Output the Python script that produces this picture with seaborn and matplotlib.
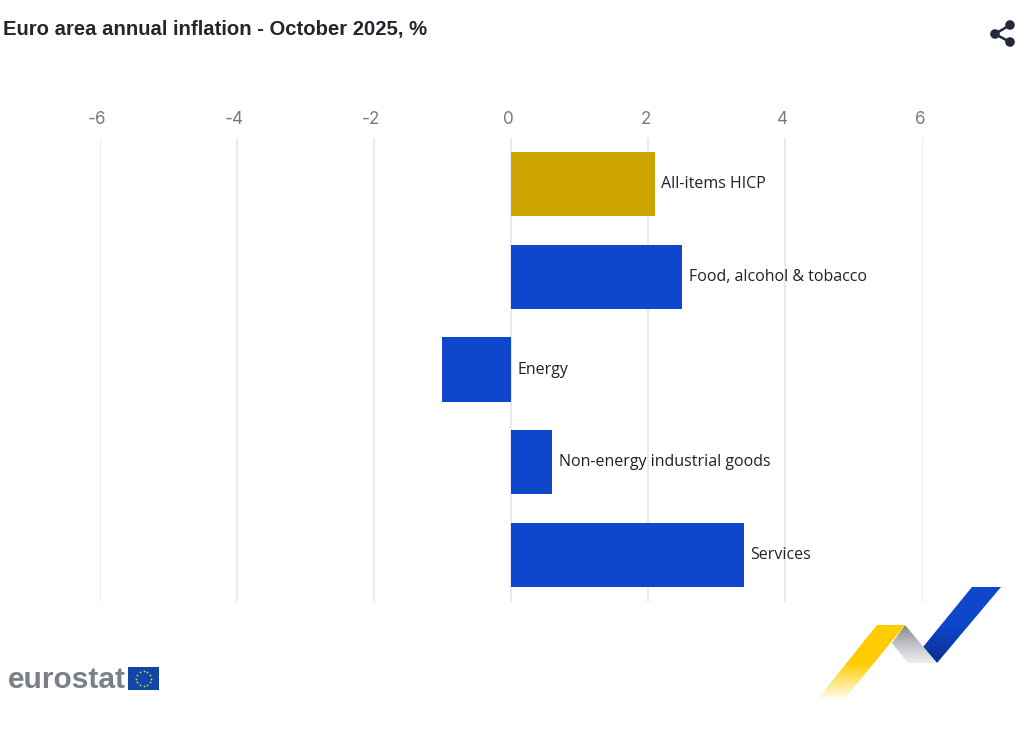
import numpy as np
import pandas as pd
import matplotlib
matplotlib.use("Agg")
import matplotlib.pyplot as plt
from matplotlib.patches import Polygon, Circle, Rectangle
from matplotlib.colors import LinearSegmentedColormap
import seaborn as sns

# Data
categories = ["All-items HICP", "Food, alcohol & tobacco", "Energy",
              "Non-energy industrial goods", "Services"]
values = [2.1, 2.5, -1.0, 0.6, 3.4]
groups = ["headline", "component", "component", "component", "component"]
tick_values = [-6, -4, -2, 0, 2, 4, 6]
title_text = "Euro area annual inflation - October 2025, %"

W, H = 1031, 732
sns.set_theme(style="white")
plt.rcParams["font.family"] = ["Open Sans", "DejaVu Sans"]

fig = plt.figure(figsize=(W / 100, H / 100), dpi=100, facecolor="white")
ax = fig.add_axes([99.5 / W, 1 - 601.5 / H, (922.5 - 99.5) / W, (601.5 - 137.5) / H])

df = pd.DataFrame({"category": categories, "value": values, "group": groups})
sns.barplot(data=df, y="category", x="value", hue="group", dodge=False,
            palette={"headline": "#CCA300", "component": "#0E47CB"},
            width=0.69, legend=False, saturation=1, ax=ax, zorder=3,
            edgecolor="none", linewidth=0)

ax.set_xlim(-6, 6)
ax.set_ylim(4.5, -0.5)
ax.set_xlabel("")
ax.set_ylabel("")
ax.set_yticks([])
ax.set_xticks(tick_values)
ax.set_xticklabels([])
ax.tick_params(axis="x", length=0)
for s in ax.spines.values():
    s.set_visible(False)
ax.patch.set_alpha(0)
ax.grid(axis="x", color="#E9EBF1", lw=1.5, zorder=0)
ax.set_axisbelow(True)

# Tick labels, set slightly left of the grid lines
for t in tick_values:
    ax.annotate(f"{t}", xy=(t, 1), xycoords=("data", "axes fraction"),
                xytext=(-1.8, 13.2), textcoords="offset points",
                ha="center", va="center", fontsize=12.3, color="#777B82",
                family="Inter")

# Category labels beside the bars
for i, (c, v) in enumerate(zip(categories, values)):
    ax.annotate(c, xy=(max(v, 0), i), xycoords="data",
                xytext=(4.6, 0), textcoords="offset points",
                ha="left", va="center", fontsize=11.5, color="#1F2128",
                family="Open Sans")

# Overlay in pixel coordinates for title, icon and logos
ov = fig.add_axes([0, 0, 1, 1], zorder=5)
ov.set_xlim(0, W)
ov.set_ylim(H, 0)
ov.axis("off")
ov.patch.set_alpha(0)

ov.text(3, 29.3, title_text, fontsize=14.6, fontweight="bold", color="#23262F",
        family="Liberation Sans", ha="left", va="center")

# Share icon
ic = "#23293A"
for a, b in [((995, 34), (1010, 25)), ((995, 34), (1010, 42))]:
    ov.plot([a[0], b[0]], [a[1], b[1]], color=ic, lw=1.8, solid_capstyle="round")
for c in [(995, 34), (1010, 25), (1010, 42)]:
    ov.add_patch(Circle(c, 4.8, color=ic, lw=0))

# Ribbon logo
def gradient_poly(points, colors, y0, y1):
    cmap = LinearSegmentedColormap.from_list("g", colors)
    xs = [p[0] for p in points]
    grad = np.linspace(0, 1, 256).reshape(-1, 1)
    im = ov.imshow(grad, extent=(min(xs), max(xs), y1, y0), cmap=cmap,
                   aspect="auto", zorder=6, interpolation="bilinear")
    poly = Polygon(points, closed=True, transform=ov.transData, fc="none", ec="none")
    ov.add_patch(poly)
    im.set_clip_path(poly)

gradient_poly([(923, 647), (972, 587), (1001, 587), (937, 663)],
              ["#0E47CB", "#0E47CB", "#0A2F8E"], 587, 663)
gradient_poly([(905, 625), (937, 663), (908, 663), (892, 643)],
              ["#85878B", "#C0C2C5", "#EDEEF0"], 625, 663)
gradient_poly([(877, 625), (905, 625), (843, 701), (816, 701)],
              ["#FFCC00", "#FFCC00", "#FFFFFF"], 625, 701)
ov.set_xlim(0, W)
ov.set_ylim(H, 0)

# Eurostat logo
ov.text(8, 680, "eurostat", fontsize=21.5, fontweight="bold", color="#7B7F86",
        family="Liberation Sans", ha="left", va="center")
ov.add_patch(Rectangle((128, 667), 31, 23, fc="#0E47A8", ec="none"))
ang = np.deg2rad(np.arange(0, 360, 30))
ov.scatter(143.5 + 7.5 * np.cos(ang), 678.5 + 7.5 * np.sin(ang), s=1.6,
           color="#E8D44A", linewidths=0)

fig.savefig("out.png", dpi=100, facecolor="white")
